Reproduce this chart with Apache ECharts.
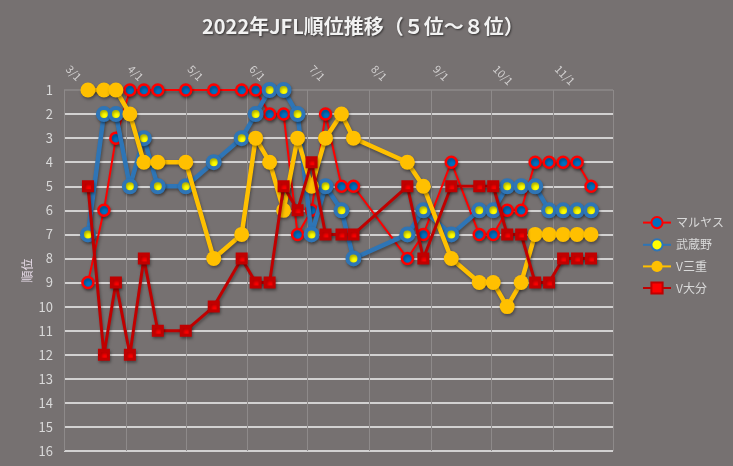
<!DOCTYPE html>
<html>
<head>
<meta charset="utf-8">
<title>2022年JFL順位推移</title>
<script src="https://cdn.jsdelivr.net/npm/echarts@6/dist/echarts.min.js"></script>
<style>
html,body{margin:0;padding:0;background:#767171;}
#main{width:733px;height:466px;}
</style>
</head>
<body>
<div id="main"></div>
<script>

// 試合日（全チーム共通）
var matchDates = ['2022-03-13','2022-03-21','2022-03-27','2022-04-03','2022-04-10','2022-04-17',
	'2022-05-01','2022-05-15','2022-05-29','2022-06-05','2022-06-12','2022-06-19','2022-06-26',
	'2022-07-03','2022-07-10','2022-07-18','2022-07-24','2022-08-20','2022-08-28','2022-09-11',
	'2022-09-25','2022-10-02','2022-10-09','2022-10-16','2022-10-23','2022-10-30','2022-11-06',
	'2022-11-13','2022-11-20'];

// 順位
var maruyasu  = [9,6,3,1,1,1,1,1,1,1,2,2,7,6,2,5,5,8,7,4,7,7,6,6,4,4,4,4,5];
var musashino = [7,2,2,5,3,5,5,4,3,2,1,1,2,7,5,6,8,7,6,7,6,6,5,5,5,6,6,6,6];
var mie       = [1,1,1,2,4,4,4,8,7,3,4,6,3,5,3,2,3,4,5,8,9,9,10,9,7,7,7,7,7];
var oita      = [5,12,9,12,8,11,11,10,8,9,9,5,6,4,7,7,7,5,8,5,5,5,7,7,9,9,8,8,8];

var teamNames = ['マルヤス','武蔵野','V三重','V大分'];

function pairs(ranks){
	var arr = [];
	for(var i=0;i<matchDates.length;i++){
		arr.push([matchDates[i], ranks[i]]);
	}
	return arr;
}

var shadow = {shadowColor:'rgba(0,0,0,0.35)', shadowBlur:3, shadowOffsetX:1, shadowOffsetY:2};

// 一番上の横線だけ薄いグレー
var hLineColors = ['#8e8a8a'];
for(var k=0;k<15;k++){ hLineColors.push('#f2f2f2'); }

var myChart = echarts.init(document.getElementById('main'));

var option = {
	backgroundColor: '#767171',
	animation: false,
	textStyle: {fontFamily: '"Noto Sans CJK JP","Noto Sans",sans-serif'},
	title: {
		text: '2022年JFL順位推移（５位～８位）',
		left: 197,
		top: 11,
		textStyle: {
			color: '#f2f2f2', fontSize: 20, fontWeight: 'bold',
			textShadowColor: 'rgba(0,0,0,0.55)', textShadowBlur: 2, textShadowOffsetX: 1, textShadowOffsetY: 1
		}
	},
	legend: {
		orient: 'vertical',
		left: 637,
		top: 211,
		itemWidth: 28,
		itemHeight: 14,
		itemGap: 9,
		data: teamNames,
		textStyle: {color: '#d9d9d9', fontSize: 12}
	},
	grid: {left: 64, right: 120, top: 90, bottom: 15},
	xAxis: {
		type: 'time',
		position: 'top',
		min: '2022-03-01',
		max: '2022-12-01',
		minInterval: 28*86400000,
		maxInterval: 31*86400000,
		axisLine: {show: false},
		axisTick: {show: false},
		axisLabel: {
			color: '#d0cece', fontSize: 11, rotate: 45, margin: 19, showMaxLabel: false,
			align: 'left', verticalAlign: 'bottom',
			formatter: function(val){
				var d = new Date(val);
				if(d.getMonth()==11) return '';
				return (d.getMonth()+1)+'/'+d.getDate();
			}
		},
		splitLine: {show: true, lineStyle: {color: '#8e8a8a', width: 1}}
	},
	yAxis: {
		type: 'value',
		inverse: true,
		min: 1,
		max: 16,
		interval: 1,
		name: '順位',
		nameLocation: 'middle',
		nameGap: 31,
		nameMoveOverlap: false,
		nameTextStyle: {color: '#e6dbe8', fontSize: 12},
		axisLine: {show: false},
		axisTick: {show: false},
		axisLabel: {color: '#d9d9d9', fontSize: 13, margin: 11},
		splitLine: {show: true, lineStyle: {color: hLineColors, width: 1.5}}
	},
	series: []
};

// 系列のスタイル
option.series = [
	{
		name: teamNames[0], type: 'line', z: 2,
		data: pairs(maruyasu),
		symbol: 'circle', symbolSize: 11,
		lineStyle: Object.assign({color: '#ff0000', width: 2}, shadow),
		itemStyle: Object.assign({color: '#0070c0', borderColor: '#ff0000', borderWidth: 2.5}, shadow)
	},
	{
		name: teamNames[1], type: 'line', z: 3,
		data: pairs(musashino),
		symbol: 'circle', symbolSize: 12,
		lineStyle: Object.assign({color: '#2e75b6', width: 4.5}, shadow),
		itemStyle: Object.assign({color: '#ffff00', borderColor: '#2e75b6', borderWidth: 4}, shadow)
	},
	{
		name: teamNames[2], type: 'line', z: 4,
		data: pairs(mie),
		symbol: 'circle', symbolSize: 15,
		lineStyle: Object.assign({color: '#ffc000', width: 4.5}, shadow),
		itemStyle: Object.assign({color: '#ffc000', borderWidth: 0}, shadow)
	},
	{
		name: teamNames[3], type: 'line', z: 5,
		data: pairs(oita),
		symbol: 'rect', symbolSize: 9,
		lineStyle: Object.assign({color: '#c00000', width: 3}, shadow),
		itemStyle: Object.assign({color: '#ff0000', borderColor: '#c00000', borderWidth: 3}, shadow)
	}
];

myChart.setOption(option);

</script>
</body>
</html>
